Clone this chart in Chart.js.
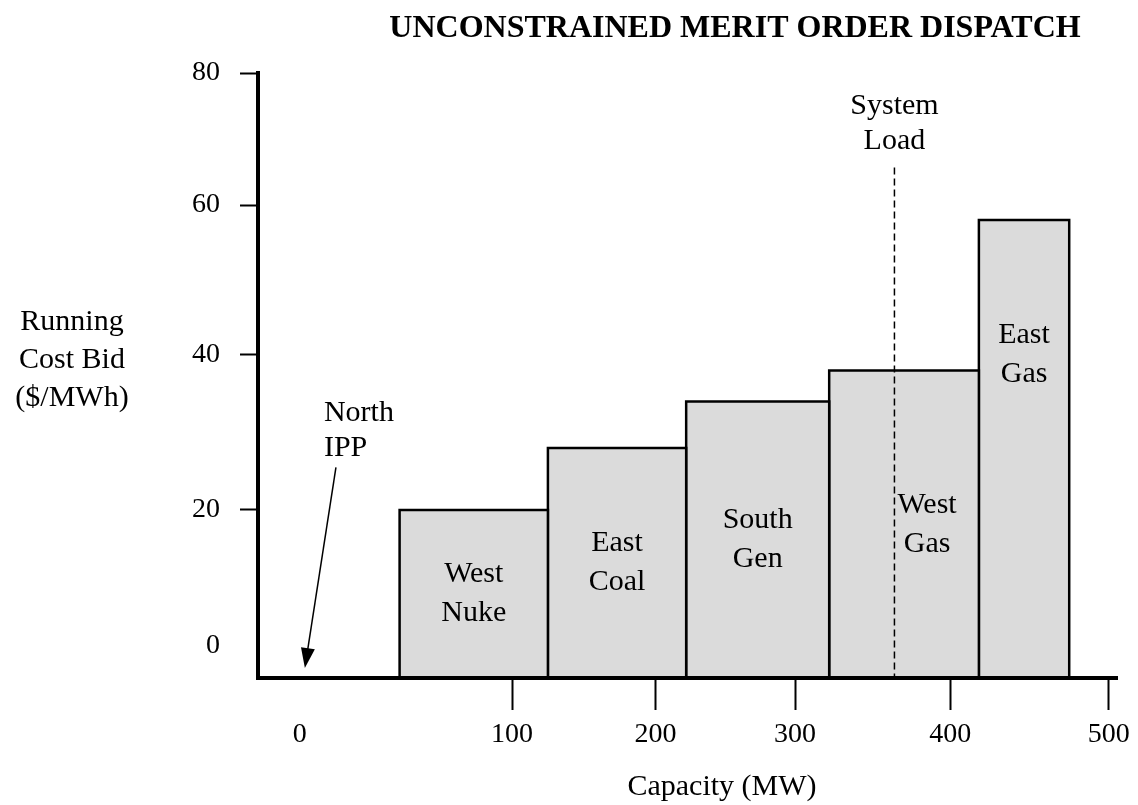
<!DOCTYPE html>
<html>
<head>
<meta charset="utf-8">
<title>Unconstrained merit order dispatch</title>
<script src="https://cdn.jsdelivr.net/npm/chart.js@4.4.1/dist/chart.umd.min.js"></script>
<style>
  html, body { margin: 0; padding: 0; background: #fff; }
  canvas { display: block; }
</style>
</head>
<body>
<canvas id="meritChart" width="1138" height="805"></canvas>
<script>
const plants = ['West Nuke', 'East Coal', 'South Gen', 'West Gas', 'East Gas'];
const capacityFrom = [47, 125, 222, 322, 418];
const capacityTo = [125, 222, 322, 418, 475];
const bids = [20, 28, 34, 38, 58];
const systemLoad = 364;
const northIpp = 0;
const xTicks = [0, 100, 200, 300, 400, 500];
const yTicks = [0, 20, 40, 60, 80];

// the original sketch isn't drawn to scale, so both axes go through knots
const xKnots = { values: [-20, 0, 100, 200, 300, 400, 500, 506], fracs: [0, 0.0487, 0.2955, 0.4623, 0.6246, 0.8053, 0.9896, 1] };
const yKnots = { values: [-5, 0, 20, 40, 60, 80], fracs: [0, 0.0529, 0.2777, 0.5339, 0.7818, 1] };

// label placement (null = centre of block)
const labelX = [null, null, null, 385, null];
const labelLevel = [null, null, null, null, 40];

const serif = "'Liberation Serif', 'Times New Roman', serif";
const black = '#000';

function interp(v, from, to) {
  let i = 1;
  while (i < from.length - 1 && v > from[i]) i++;
  const t = (v - from[i - 1]) / (from[i] - from[i - 1]);
  return to[i - 1] + t * (to[i] - to[i - 1]);
}

class KnotScale extends Chart.LinearScale {
  knots() { return this.axis === 'x' ? xKnots : yKnots; }
  getPixelForValue(v) {
    if (v === null || v === undefined) return NaN;
    const k = this.knots();
    return this.getPixelForDecimal(interp(v, k.values, k.fracs));
  }
  getValueForPixel(p) {
    const k = this.knots();
    return interp(this.getDecimalForPixel(p), k.fracs, k.values);
  }
}
KnotScale.id = 'knot';
KnotScale.defaults = Chart.LinearScale.defaults;
Chart.register(KnotScale);

const yMin = yKnots.values[0];

const datasets = plants.map((name, i) => ({
  label: name,
  data: [
    { x: capacityFrom[i], y: yMin },
    { x: capacityFrom[i], y: bids[i] },
    { x: capacityTo[i], y: bids[i] },
    { x: capacityTo[i], y: yMin }
  ],
  borderColor: black,
  borderWidth: 2.5,
  backgroundColor: '#dbdbdb',
  fill: 'start',
  pointRadius: 0,
  tension: 0
}));

function drawLines(ctx, lines, cx, cy, step) {
  lines.forEach((ln, j) => ctx.fillText(ln, cx, cy + (j - (lines.length - 1) / 2) * step));
}

const textFont = '30px ' + serif;

const notes = {
  id: 'notes',
  afterDatasetsDraw(chart) {
    const { ctx, chartArea } = chart;
    const x = chart.scales.x, y = chart.scales.y;
    ctx.save();
    ctx.fillStyle = black;
    ctx.strokeStyle = black;
    ctx.font = textFont;
    ctx.textAlign = 'center';
    ctx.textBaseline = 'middle';

    plants.forEach((name, i) => {
      const cx = labelX[i] !== null
        ? x.getPixelForValue(labelX[i])
        : (x.getPixelForValue(capacityFrom[i]) + x.getPixelForValue(capacityTo[i])) / 2;
      const top = y.getPixelForValue(bids[i]);
      const cy = labelLevel[i] !== null ? y.getPixelForValue(labelLevel[i]) : (top + chartArea.bottom) / 2;
      drawLines(ctx, name.split(' '), cx, cy, 39);
    });

    // system load marker
    const lx = x.getPixelForValue(systemLoad);
    ctx.setLineDash([7, 4]);
    ctx.lineWidth = 1.5;
    ctx.beginPath();
    ctx.moveTo(lx, y.getPixelForValue(65.7));
    ctx.lineTo(lx, chartArea.bottom);
    ctx.stroke();
    ctx.setLineDash([]);
    drawLines(ctx, ['System', 'Load'], lx, y.getPixelForValue(72.4), 35);

    // north IPP arrow
    const tx = x.getPixelForValue(northIpp) + 5, ty = chartArea.bottom - 10;
    const sx = x.getPixelForValue(17), sy = y.getPixelForValue(25.5);
    const ang = Math.atan2(ty - sy, tx - sx);
    ctx.lineWidth = 1.5;
    ctx.beginPath();
    ctx.moveTo(sx, sy);
    ctx.lineTo(tx - 14 * Math.cos(ang), ty - 14 * Math.sin(ang));
    ctx.stroke();
    ctx.beginPath();
    ctx.moveTo(tx, ty);
    ctx.lineTo(tx - 20 * Math.cos(ang) + 7 * Math.sin(ang), ty - 20 * Math.sin(ang) - 7 * Math.cos(ang));
    ctx.lineTo(tx - 20 * Math.cos(ang) - 7 * Math.sin(ang), ty - 20 * Math.sin(ang) + 7 * Math.cos(ang));
    ctx.closePath();
    ctx.fill();
    ctx.textAlign = 'left';
    drawLines(ctx, ['North', 'IPP'], sx - 12, sy - 37, 35);
    ctx.restore();
  },
  afterDraw(chart) {
    const { ctx } = chart;
    ctx.save();
    ctx.fillStyle = black;
    ctx.textAlign = 'center';
    ctx.textBaseline = 'middle';
    ctx.font = 'bold 32px ' + serif;
    ctx.fillText('UNCONSTRAINED MERIT ORDER DISPATCH', 735, 29);
    ctx.font = textFont;
    drawLines(ctx, ['Running', 'Cost Bid', '($/MWh)'], 72, 360, 38);
    ctx.fillText('Capacity (MW)', 722, 787);
    ctx.restore();
  }
};

const tickFont = { family: serif, size: 28 };
const hideZero = c => (c.tick && c.tick.value === 0 ? 'rgba(0,0,0,0)' : black);

new Chart(document.getElementById('meritChart'), {
  type: 'line',
  data: { datasets },
  options: {
    responsive: false,
    animation: false,
    events: [],
    layout: { padding: { left: 0, top: 73, right: 17, bottom: 0 } },
    plugins: { legend: { display: false }, tooltip: { enabled: false } },
    scales: {
      x: {
        type: 'knot',
        min: xKnots.values[0],
        max: xKnots.values[xKnots.values.length - 1],
        afterBuildTicks: s => { s.ticks = xTicks.map(v => ({ value: v })); },
        afterFit: s => { s.height = 127; },
        grid: { drawOnChartArea: false, tickLength: 32, tickWidth: 2, tickColor: hideZero },
        border: { display: true, color: black, width: 4, z: 1 },
        ticks: { autoSkip: false, maxRotation: 0, padding: 8, color: black, font: tickFont }
      },
      y: {
        type: 'knot',
        min: yMin,
        max: yKnots.values[yKnots.values.length - 1],
        afterBuildTicks: s => { s.ticks = yTicks.map(v => ({ value: v })); },
        afterFit: s => { s.width = 258; },
        grid: { drawOnChartArea: false, tickLength: 18, tickWidth: 2, tickColor: hideZero },
        border: { display: true, color: black, width: 4, z: 1 },
        ticks: { autoSkip: false, padding: 20, color: black, font: tickFont }
      }
    }
  },
  plugins: [notes]
});
</script>
</body>
</html>
